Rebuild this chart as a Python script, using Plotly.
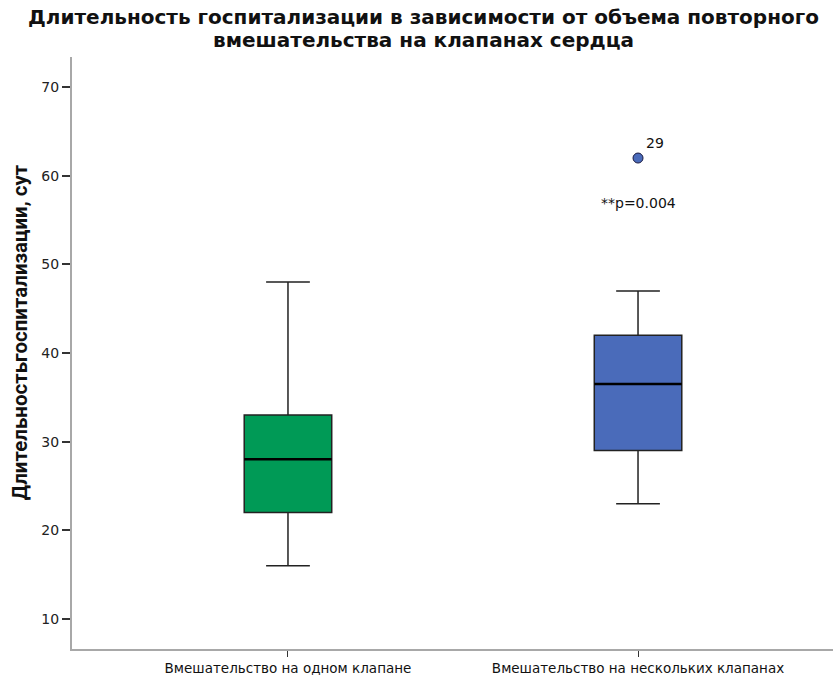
import plotly.graph_objects as go

categories = ["Вмешательство на одном клапане", "Вмешательство на нескольких клапанах"]
q1 = [22, 29]
median = [28, 36.5]
q3 = [33, 42]
lower_whisker = [16, 23]
upper_whisker = [48, 47]
colors = ["#009A56", "#4A6BBA"]
outlier_cat = [categories[1]]
outlier_val = [62]
outlier_label = ["29"]
p_text = "**p=0.004"
p_y = 56.9
title_lines = ["Длительность госпитализации в зависимости от объема повторного",
               "вмешательства на клапанах сердца"]
ytitle_text = "Длительностьгоспитализации, сут"

BOX_W = 0.25

fig = go.Figure()
for i, cat in enumerate(categories):
    fig.add_trace(go.Box(
        x=[cat], q1=[q1[i]], median=[median[i]], q3=[q3[i]],
        lowerfence=[lower_whisker[i]], upperfence=[upper_whisker[i]],
        fillcolor=colors[i], line=dict(color="#222222", width=1.5),
        width=BOX_W, whiskerwidth=0.5, boxpoints=False, showlegend=False,
        hoverinfo="skip",
    ))
    fig.add_shape(type="line", xref="x", yref="y",
                  x0=i - BOX_W / 2, x1=i + BOX_W / 2, y0=median[i], y1=median[i],
                  line=dict(color="#000000", width=2.5))

fig.add_trace(go.Scatter(
    x=outlier_cat, y=outlier_val, mode="markers",
    marker=dict(size=10, color="#4A6BBA", line=dict(color="#1a1a40", width=1)),
    showlegend=False, hoverinfo="skip",
))
for c, v, t in zip(outlier_cat, outlier_val, outlier_label):
    fig.add_annotation(x=c, y=v, text=t, showarrow=False, xshift=17, yshift=15,
                       font=dict(family="DejaVu Sans", size=14, color="#111111"))

fig.add_annotation(x=categories[1], y=p_y, text=p_text, showarrow=False,
                   font=dict(family="DejaVu Sans", size=14, color="#111111"),
                   xanchor="center", yanchor="middle")

# chart title (two lines)
for line, yy in zip(title_lines, [1.0676, 1.0287]):
    fig.add_annotation(xref="paper", yref="paper", x=0.462, y=yy, text=line,
                       showarrow=False, xanchor="center", yanchor="middle",
                       font=dict(family="DejaVu Sans", size=20, color="#111111", weight="bold"))
# y axis title
fig.add_annotation(xref="paper", yref="paper", x=-0.068, y=0.5355, text=ytitle_text,
                   showarrow=False, xanchor="center", yanchor="middle", textangle=-90,
                   font=dict(family="Roboto", size=20.5, color="#111111", weight="bold"))

fig.update_layout(
    width=833, height=678,
    margin=dict(l=72, r=0, t=57, b=29),
    paper_bgcolor="white", plot_bgcolor="white",
    xaxis=dict(
        type="category", range=[-0.617, 1.557],
        showline=True, linecolor="#a8a8a8", linewidth=2,
        ticks="outside", ticklen=6, tickcolor="#333333", tickwidth=1,
        tickfont=dict(family="DejaVu Sans", size=13.5, color="#111111"),
        showgrid=False, zeroline=False,
    ),
    yaxis=dict(
        range=[6.6, 73.4], tickvals=[10, 20, 30, 40, 50, 60, 70],
        showline=True, linecolor="#a8a8a8", linewidth=2,
        ticks="outside", ticklen=8, tickcolor="#333333", tickwidth=1.5,
        tickfont=dict(family="DejaVu Sans", size=14, color="#222222"),
        showgrid=False, zeroline=False,
    ),
)

fig.write_html("out.html")
